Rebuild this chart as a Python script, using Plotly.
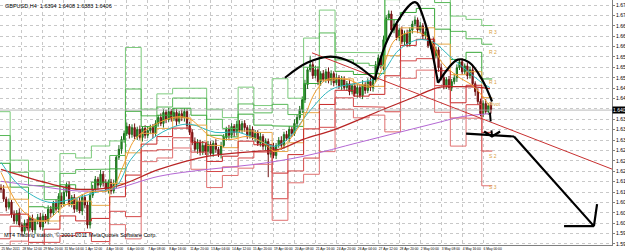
import plotly.graph_objects as go

# ---------------- data ----------------
closes = [
 1.6139,1.6106,1.6079,1.6096,1.6055,1.6032,1.6059,1.6019,1.5998,1.6025,
 1.6009,1.6042,1.6002,1.6032,1.6045,1.6012,1.6049,1.6032,1.6072,1.6059,
 1.6092,1.6072,1.6116,1.6089,1.6129,1.6153,1.6089,1.6112,1.6072,1.6099,
 1.6066,1.6112,1.6086,1.6019,1.6119,1.6139,1.6173,1.6153,1.6190,1.6160,
 1.6139,1.6163,1.6133,1.6156,1.6247,1.6274,1.6307,1.6327,1.6351,1.6324,
 1.6347,1.6317,1.6341,1.6314,1.6344,1.6321,1.6337,1.6347,1.6327,1.6361,
 1.6381,1.6361,1.6398,1.6374,1.6401,1.6378,1.6398,1.6368,1.6394,1.6381,
 1.6401,1.6354,1.6331,1.6300,1.6274,1.6297,1.6264,1.6287,1.6267,1.6290,
 1.6260,1.6294,1.6274,1.6257,1.6287,1.6314,1.6341,1.6321,1.6351,1.6331,
 1.6358,1.6337,1.6361,1.6347,1.6321,1.6341,1.6314,1.6327,1.6294,1.6317,
 1.6284,1.6300,1.6257,1.6280,1.6253,1.6287,1.6304,1.6287,1.6324,1.6311,
 1.6341,1.6327,1.6361,1.6381,1.6408,1.6441,1.6492,1.6542,1.6559,1.6522,
 1.6542,1.6502,1.6529,1.6509,1.6535,1.6505,1.6529,1.6498,1.6515,1.6488,
 1.6509,1.6482,1.6495,1.6468,1.6488,1.6462,1.6482,1.6455,1.6492,1.6472,
 1.6502,1.6482,1.6509,1.6559,1.6582,1.6555,1.6643,1.6717,1.6730,1.6676,
 1.6696,1.6650,1.6676,1.6636,1.6663,1.6629,1.6676,1.6696,1.6710,1.6676,
 1.6690,1.6656,1.6670,1.6623,1.6636,1.6589,1.6609,1.6549,1.6515,1.6488,
 1.6509,1.6482,1.6502,1.6515,1.6549,1.6569,1.6535,1.6555,1.6522,1.6542,
 1.6495,1.6468,1.6435,1.6394,1.6428,1.6401,1.6421,1.6406]
first_open = 1.6146
wick_up_pips = [
 10,14,8,12,7,13,10,16,8,12, 14,9,12,8,11,15,9,7,13,11, 8,14,10,12,16,9,13,8,11,10,
 14,11,8,12,10,15,11,8,14,10, 13,9,11,16,8,14,11,10,13,8, 11,14,9,13,8,11,15,10,12,11,
 8,14,11,9,13,8,15,11,9,14, 11,8,12,10,14,11,9,15,8,12, 11,9,14,8,12,11,9,15,11,8,
 12,14,9,11,8,15,10,12,11,14, 8,11,10,12,16,8,11,14,9,12, 11,8,14,9,12,11,16,8,30,10,
 14,11,8,12,10,15,11,8,14,9, 12,11,9,14,8,11,12,10,15,8, 11,14,9,12,11,8,14,9,12,11,
 15,9,8,12,11,14,9,11,12,8, 14,9,11,12,8,15,11,9,14,11, 8,12,9,14,11,9,12,8,10,11,
 14,8,12,9,11,15,8,11]
wick_dn_pips = [
 11,9,14,8,12,9,11,8,15,10, 9,12,8,14,11,9,12,8,11,14, 9,8,12,11,9,14,8,11,12,9,
 8,14,11,12,12,9,11,15,8,12, 9,14,11,8,12,9,15,11,8,14, 11,9,12,8,14,11,9,12,15,8,
 11,9,14,12,8,11,9,15,8,12, 14,11,9,12,8,15,11,9,12,14, 8,11,12,9,14,8,11,12,9,15,
 11,8,9,14,12,11,8,15,9,11, 12,14,77,11,9,12,8,14,11,9, 12,11,8,14,9,12,11,15,8,11,
 9,12,14,8,11,9,15,12,8,11, 14,8,11,12,9,11,14,8,12,11, 9,12,14,8,11,9,15,12,8,11,
 11,9,12,8,14,11,9,12,8,11, 9,14,11,8,12,11,9,14,8,12, 11,8,12,9,14,8,11,9,12,10,
 8,14,11,9,12,8,11,12]

# first bar index of each trading day (Sunday bar merged into Monday)
day_starts = [0,4,11,17,23,29,35,42,48,54,60,66,73,79,85,91,97,104,110,116,122,
              128,135,141,147,153,159,166,172,178,184]
# high / low / close of the day before the first visible bar
prev_day_hlc = (1.6240, 1.6066, 1.6133)

x_tick_pos = list(range(0, 185, 8))
x_tick_labels = ["25 Mar 2011","28 Mar 12:00","29 Mar 20:00","31 Mar 04:00","1 Apr 12:00",
 "4 Apr 16:00","6 Apr 00:00","7 Apr 08:00","8 Apr 16:00","11 Apr 20:00","13 Apr 04:00",
 "14 Apr 12:00","15 Apr 20:00","19 Apr 00:00","20 Apr 08:00","21 Apr 16:00","24 Apr 20:00",
 "26 Apr 04:00","27 Apr 12:00","28 Apr 20:00","2 May 00:00","3 May 08:00","4 May 16:00","6 May 00:00"]
y_tick_values = [1.6760,1.6725,1.6690,1.6655,1.6620,1.6585,1.6550,1.6515,1.6480,1.6445,1.6410,
 1.6375,1.6340,1.6305,1.6270,1.6235,1.6200,1.6165,1.6130,1.6095,1.6060,1.6025,1.5990,1.5955]

ma_fast_x = [0,8.8,16.4,24,33.2,42,46.6,51.1,60.3,67.9,72.5,80.2,87.8,93.9,100,104.6,109.2,115.3,
             119.8,124.4,132.1,141.2,145.8,150.4,158,163.7,168.3,174.4,180.5,186.6]
ma_fast_y = [1.6196,1.6062,1.6032,1.6082,1.6129,1.6139,1.6217,1.6307,1.6364,1.6384,1.6374,1.6317,
             1.6307,1.6317,1.6297,1.6267,1.6297,1.6374,1.6465,1.6509,1.6509,1.6485,1.6552,1.6643,
             1.6670,1.6643,1.6566,1.6519,1.6485,1.6418]
ma_mid_x = [0,7.3,17.9,27.1,36.3,43.9,49.6,57.3,66.4,72.5,81.7,90.8,100,104.6,109.2,118.3,126,
            136.6,144.3,151.9,159.2,165.3,171.4,177.5,183.6,186.6]
ma_mid_y = [1.6230,1.6149,1.6096,1.6106,1.6129,1.6149,1.6240,1.6307,1.6351,1.6358,1.6331,1.6331,
            1.6297,1.6284,1.6307,1.6408,1.6475,1.6498,1.6519,1.6609,1.6643,1.6633,1.6586,1.6542,
            1.6498,1.6482]
ma_slow_x = [0,19.5,30.2,43.9,60.3,78.6,96.9,106.1,115.3,127.5,145.8,158,166.8,174.4,183.6,186.6]
ma_slow_y = [1.6206,1.6156,1.6139,1.6149,1.6206,1.6250,1.6267,1.6274,1.6307,1.6341,1.6408,1.6451,
             1.6482,1.6485,1.6482,1.6478]
ma_long_x = [0,14.9,30.2,42.4,60.3,78.6,96.9,115.3,136.6,151.9,166.8,176,186.6]
ma_long_y = [1.6166,1.6149,1.6133,1.6139,1.6183,1.6206,1.6223,1.6250,1.6297,1.6331,1.6364,1.6384,1.6394]

trend_x = [118.7, 238.2]
trend_y = [1.6599, 1.6190]

hs_left_x = [108.4, 117, 125.9, 134, 142.7]
hs_left_y = [1.6515, 1.6566, 1.6586, 1.6566, 1.6509]
hs_head_x = [142.7, 148.1, 158, 161.5, 166.8]
hs_head_y = [1.6509, 1.6653, 1.6770, 1.6710, 1.6498]
hs_right_x = [166.8, 174.4, 178.8, 183.6, 187.4]
hs_right_y = [1.6498, 1.6576, 1.6566, 1.6509, 1.6435]
dash_x = [186.6, 187.4]
dash_y = [1.6398, 1.6317]
head_x = [184.4, 187.4, 190.5]
head_y = [1.6334, 1.6317, 1.6334]
neck_x = [177.5, 195.8]
neck_y = [1.6327, 1.6317]
arrow_x = [195.8, 226.3, 227.5]
arrow_y = [1.6317, 1.6015, 1.6089]
arrow_base_x = [214.9, 226.3]
arrow_base_y = [1.6015, 1.6015]

pivot_labels = ["R 3", "R 2", "R 1", "Pivot", "S 2", "S 3"]
pivot_label_y = [1.6670, 1.6602, 1.6502, 1.6428, 1.6253, 1.6146]

last_price = 1.6406
# ---------------------------------------------------------------

n = len(closes)
idx = list(range(n))
opens = [first_open] + closes[:-1]
highs = [max(o, c) + u / 10000 for o, c, u in zip(opens, closes, wick_up_pips)]
lows = [min(o, c) - d / 10000 for o, c, d in zip(opens, closes, wick_dn_pips)]

# classic daily floor pivots of each day, from the previous day's H/L/C
bounds = day_starts + [n]
levels = {k: ([], []) for k in ["R3", "R2", "R1", "P", "S1", "S2", "S3"]}
ph, pl, pc = prev_day_hlc
for d in range(len(day_starts)):
    s, e = bounds[d], bounds[d + 1]
    p = (ph + pl + pc) / 3
    lv = {"P": p, "R1": 2 * p - pl, "S1": 2 * p - ph, "R2": p + (ph - pl), "S2": p - (ph - pl),
          "R3": ph + 2 * (p - pl), "S3": pl - 2 * (ph - p)}
    for k, v in lv.items():
        levels[k][0].extend([s - 0.5, e - 0.5])
        levels[k][1].extend([v, v])
    ph, pl, pc = max(highs[s:e]), min(lows[s:e]), closes[e - 1]

fig = go.Figure()

def line(x, y, color, width=1.0, shape="linear", dash=None):
    fig.add_trace(go.Scatter(x=x, y=y, mode="lines", hoverinfo="skip",
                             line=dict(color=color, width=width, shape=shape, dash=dash,
                                       smoothing=1.0 if shape == "spline" else None)))

pivot_colors = {"R3": "#7CCB7C", "R2": "#58B858", "R1": "#38A838", "P": "#E8A848",
                "S1": "#C82828", "S2": "#D44848", "S3": "#E07070"}
for k, (xs, ys) in levels.items():
    line(xs, ys, pivot_colors[k], 1.0)

line(ma_long_x, ma_long_y, "#B468D4", 1.0, "spline")
line(ma_slow_x, ma_slow_y, "#B82424", 1.3, "spline")
line(ma_mid_x, ma_mid_y, "#30B8C0", 1.0, "spline")
line(ma_fast_x, ma_fast_y, "#F0A030", 1.0, "spline")

fig.add_trace(go.Candlestick(
    x=idx, open=opens, high=highs, low=lows, close=closes,
    increasing=dict(line=dict(color="#1E6E1E", width=1), fillcolor="#22A022"),
    decreasing=dict(line=dict(color="#701010", width=1), fillcolor="#901818"),
    whiskerwidth=0, hoverinfo="skip"))

line(trend_x, trend_y, "#C83030", 1.0)

for xs, ys, sh in [(hs_left_x, hs_left_y, "spline"), (hs_head_x, hs_head_y, "spline"),
                   (hs_right_x, hs_right_y, "spline"), (head_x, head_y, "linear"),
                   (neck_x, neck_y, "linear"), (arrow_x, arrow_y, "linear"),
                   (arrow_base_x, arrow_base_y, "linear")]:
    line(xs, ys, "#000000", 2.2, sh)
line(dash_x, dash_y, "#000000", 2.0, "linear", "dash")

# bid line
fig.add_hline(y=last_price, line=dict(color="#A8A8A8", width=0.8))

for t, yv in zip(pivot_labels, pivot_label_y):
    fig.add_annotation(x=185.5, y=yv, text=t, showarrow=False, xanchor="left",
                       font=dict(size=5, color="#D9A040", family="Liberation Sans"))

fig.add_annotation(xref="paper", yref="paper", x=0.005, y=0.995, xanchor="left", yanchor="top",
                   text="GBPUSD,H4  1.6394 1.6408 1.6383 1.6406", showarrow=False,
                   font=dict(size=5.5, color="#000000", family="Liberation Sans"))
fig.add_annotation(xref="paper", yref="paper", x=0.004, y=0.022, xanchor="left", yanchor="bottom",
                   text="MT4 Trading station, © 2001-2011 MetaQuotes Software Corp.", showarrow=False,
                   font=dict(size=5.5, color="#000000", family="Liberation Sans"))
fig.add_annotation(xref="paper", yref="y", x=1.0, y=last_price, xanchor="left", yanchor="middle",
                   text="1.6406", showarrow=False, bgcolor="#000000",
                   font=dict(size=5, color="#FFFFFF", family="Liberation Sans"), borderpad=0)

y_tick_text = ["" if abs(v - last_price) < 0.001 else f"{v:.4f}" for v in y_tick_values]

fig.update_layout(
    width=625, height=252, margin=dict(l=0, r=13, t=0, b=7),
    paper_bgcolor="#FFFFFF", plot_bgcolor="#FFFFFF", showlegend=False,
    xaxis=dict(range=[-0.38, 233.2], rangeslider=dict(visible=False), tickmode="array",
               tickvals=x_tick_pos, ticktext=x_tick_labels, ticklabelposition="outside right",
               tickangle=0, automargin=False, ticklen=0, ticklabelstandoff=0,
               tickfont=dict(size=3.3, family="Liberation Sans Narrow, Liberation Sans", color="#000000"),
               showgrid=True, gridcolor="#C8C8C8", griddash="dot", gridwidth=1,
               showline=True, linecolor="#808080", mirror=True, ticks="", zeroline=False),
    yaxis=dict(range=[1.59514, 1.6777], side="right", tickmode="array", automargin=False,
               tickvals=y_tick_values, ticktext=y_tick_text, ticklabelstandoff=0,
               tickfont=dict(size=5, family="Liberation Sans", color="#000000"),
               showgrid=True, gridcolor="#C8C8C8", griddash="dot", gridwidth=1,
               showline=True, linecolor="#808080", mirror=True, ticks="outside", ticklen=2,
               tickcolor="#808080", zeroline=False),
)

fig.write_html("out.html")
